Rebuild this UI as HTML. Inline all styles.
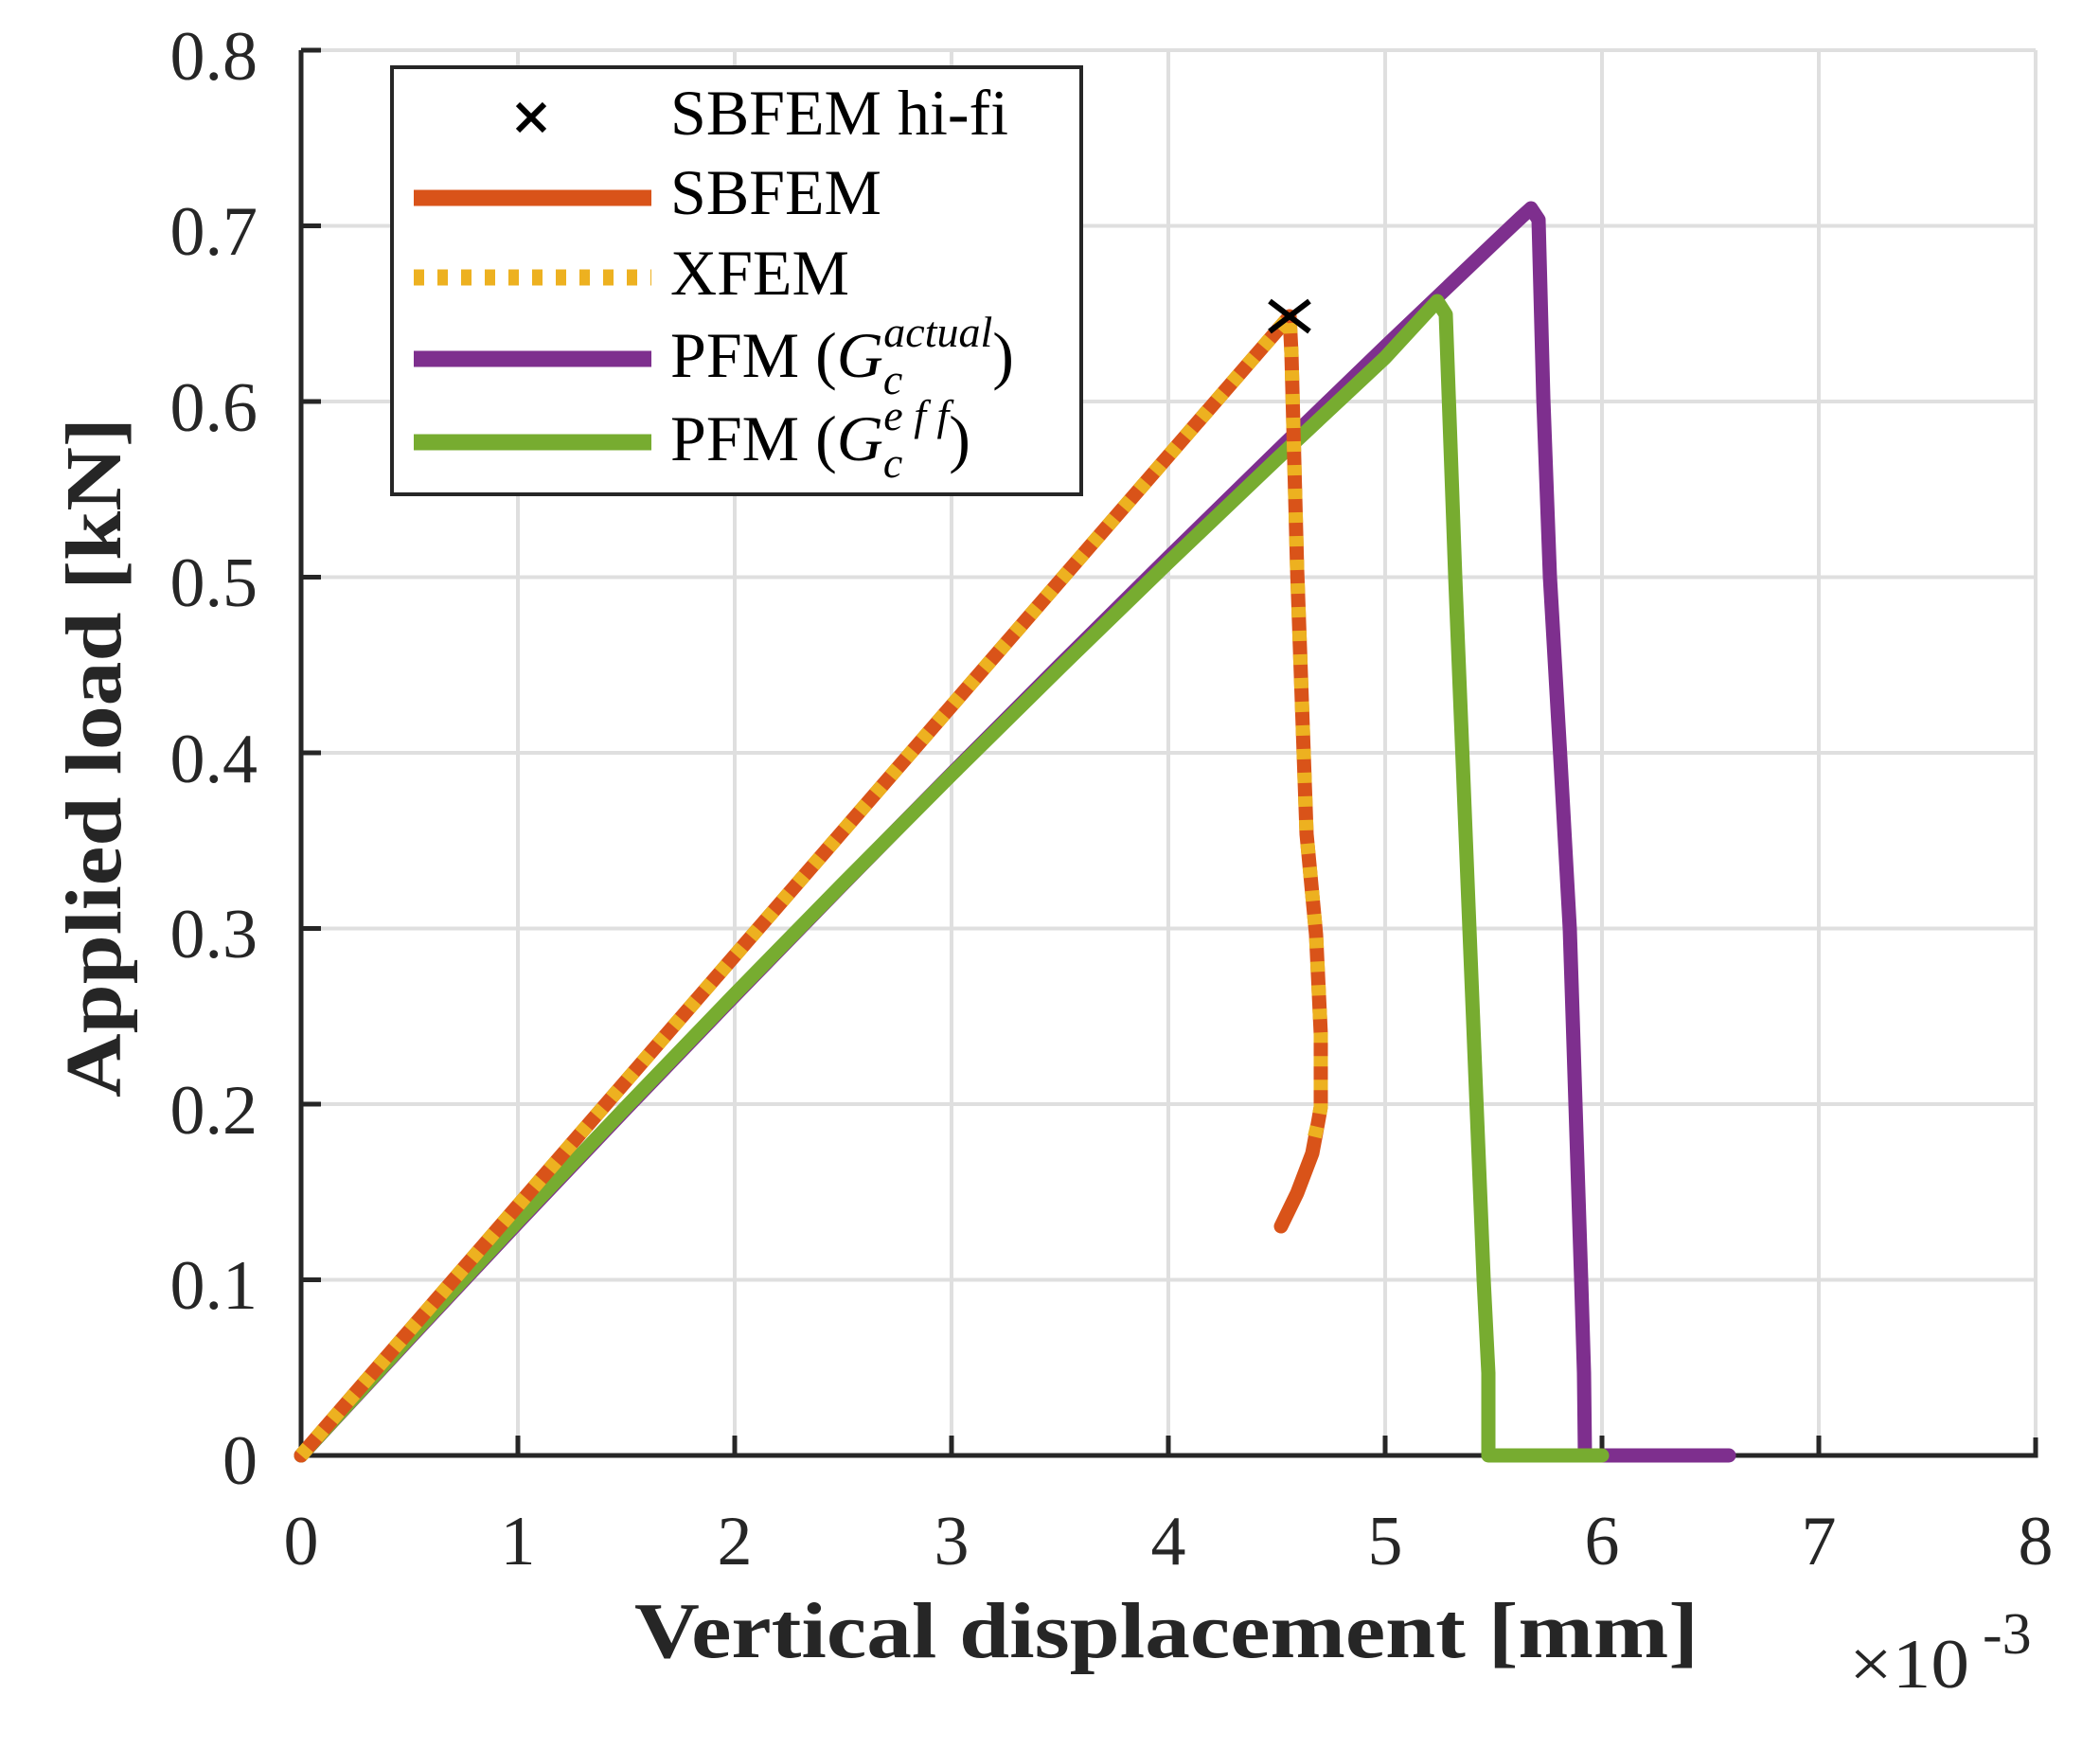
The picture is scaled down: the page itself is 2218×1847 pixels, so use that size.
<!DOCTYPE html>
<html><head><meta charset="utf-8"><style>
html,body{margin:0;padding:0;background:#fff}
svg{display:block}
text{font-family:"Liberation Serif",serif;fill:#262626}
</style></head><body>
<svg width="2218" height="1847" viewBox="0 0 2218 1847" xmlns="http://www.w3.org/2000/svg">
<rect width="2218" height="1847" fill="#fff"/>
<g stroke="#dfdfdf" stroke-width="4">
<line x1="318" y1="53" x2="2150" y2="53"/>
<line x1="318" y1="238.5" x2="2150" y2="238.5"/>
<line x1="318" y1="424" x2="2150" y2="424"/>
<line x1="318" y1="609.5" x2="2150" y2="609.5"/>
<line x1="318" y1="795" x2="2150" y2="795"/>
<line x1="318" y1="980.5" x2="2150" y2="980.5"/>
<line x1="318" y1="1166" x2="2150" y2="1166"/>
<line x1="318" y1="1351.5" x2="2150" y2="1351.5"/>
<line x1="547" y1="53" x2="547" y2="1537"/>
<line x1="776" y1="53" x2="776" y2="1537"/>
<line x1="1005" y1="53" x2="1005" y2="1537"/>
<line x1="1234" y1="53" x2="1234" y2="1537"/>
<line x1="1463" y1="53" x2="1463" y2="1537"/>
<line x1="1692" y1="53" x2="1692" y2="1537"/>
<line x1="1921" y1="53" x2="1921" y2="1537"/>
<line x1="2150" y1="53" x2="2150" y2="1537"/>
</g>
<g stroke="#262626" stroke-width="5" fill="none">
<polyline points="318,53 318,1537 2150,1537 2150,1518"/>
<line x1="318" y1="238.5" x2="339" y2="238.5"/>
<line x1="318" y1="53" x2="339" y2="53"/>
<line x1="318" y1="424" x2="339" y2="424"/>
<line x1="318" y1="609.5" x2="339" y2="609.5"/>
<line x1="318" y1="795" x2="339" y2="795"/>
<line x1="318" y1="980.5" x2="339" y2="980.5"/>
<line x1="318" y1="1166" x2="339" y2="1166"/>
<line x1="318" y1="1351.5" x2="339" y2="1351.5"/>
<line x1="547" y1="1537" x2="547" y2="1516"/>
<line x1="776" y1="1537" x2="776" y2="1516"/>
<line x1="1005" y1="1537" x2="1005" y2="1516"/>
<line x1="1234" y1="1537" x2="1234" y2="1516"/>
<line x1="1463" y1="1537" x2="1463" y2="1516"/>
<line x1="1692" y1="1537" x2="1692" y2="1516"/>
<line x1="1921" y1="1537" x2="1921" y2="1516"/>
</g>
<g fill="none" stroke-linejoin="round" stroke-linecap="round">
<polyline stroke="#7E2F8E" stroke-width="15" points="318,1537 432.5,1413.5 547,1291.2 661.5,1170.6 776,1051.4 890.5,933.6 1005,817.1 1119.5,702.2 1234,588.7 1348.5,476.7 1463,366 1577.5,256.9 1606,230 1617,220 1625,232 1630,420 1637,609 1648,800 1658,981 1670,1351 1673,1450 1674,1537 1826,1537"/>
<polyline stroke="#77AC30" stroke-width="15" points="318,1537 432.5,1412.3 547,1289.5 661.5,1168.8 776,1049.9 890.5,933 1005,818 1119.5,705 1234,593.9 1348.5,484.8 1463,377.6 1505,332 1518,318 1527,332 1537,609 1552,981 1567,1351 1572,1450 1572,1537 1692,1537"/>
<polyline stroke="#D95319" stroke-width="15" points="318,1537 1362,334 1364,373 1370,601 1380,881 1390,987 1395,1092 1395,1169 1392,1186 1386,1218 1370,1260 1353,1295"/>
<polyline stroke="#EDB120" stroke-width="15" stroke-linecap="butt" stroke-dasharray="11 14" points="318,1537 1362,334 1364,373 1370,601 1380,881 1390,987 1395,1092 1395,1169 1392,1186 1386,1211"/>
<g stroke="#000" stroke-width="6" stroke-linecap="butt"><line x1="1341" y1="318" x2="1383" y2="350"/><line x1="1341" y1="350" x2="1383" y2="318"/></g>
</g>
<rect x="414" y="71" width="728" height="451" fill="#fff" stroke="#262626" stroke-width="4"/>
<g stroke-linecap="butt">
<g stroke="#000" stroke-width="6"><line x1="547" y1="110" x2="575" y2="138"/><line x1="547" y1="138" x2="575" y2="110"/></g>
<line x1="437" y1="209" x2="688" y2="209" stroke="#D95319" stroke-width="17"/>
<line x1="437" y1="293" x2="688" y2="293" stroke="#EDB120" stroke-width="17" stroke-dasharray="11 14"/>
<line x1="437" y1="379" x2="688" y2="379" stroke="#7E2F8E" stroke-width="17"/>
<line x1="437" y1="467" x2="688" y2="467" stroke="#77AC30" stroke-width="17"/>
</g>
<g font-size="68">
<text x="708" y="142" style="fill:#000">SBFEM hi-fi</text>
<text x="708" y="226" style="fill:#000">SBFEM</text>
<text x="708" y="311" style="fill:#000">XFEM</text>
<text x="708" y="398" style="fill:#000">PFM (<tspan font-style="italic">G</tspan><tspan font-style="italic" font-size="46" dy="18">c</tspan><tspan font-style="italic" font-size="46" dx="-20" dy="-50">actual</tspan><tspan dy="32">)</tspan></text>
<text x="708" y="486" style="fill:#000">PFM (<tspan font-style="italic">G</tspan><tspan font-style="italic" font-size="46" dy="18">c</tspan><tspan font-style="italic" font-size="46" dx="-20" dy="-50">e f f</tspan><tspan dy="32">)</tspan></text>
</g>
<g font-size="74" text-anchor="end">
<text x="272" y="84">0.8</text>
<text x="272" y="269">0.7</text>
<text x="272" y="455">0.6</text>
<text x="272" y="640">0.5</text>
<text x="272" y="826">0.4</text>
<text x="272" y="1011">0.3</text>
<text x="272" y="1197">0.2</text>
<text x="272" y="1382">0.1</text>
<text x="272" y="1567">0</text>
</g>
<g font-size="74" text-anchor="middle">
<text x="318" y="1652">0</text>
<text x="547" y="1652">1</text>
<text x="776" y="1652">2</text>
<text x="1005" y="1652">3</text>
<text x="1234" y="1652">4</text>
<text x="1463" y="1652">5</text>
<text x="1692" y="1652">6</text>
<text x="1921" y="1652">7</text>
<text x="2150" y="1652">8</text>
</g>
<text x="670" y="1750" font-size="84" font-weight="bold" textLength="1124" lengthAdjust="spacingAndGlyphs">Vertical displacement [mm]</text>
<text transform="translate(127,800) rotate(-90)" text-anchor="middle" font-size="84" font-weight="bold" textLength="718" lengthAdjust="spacingAndGlyphs">Applied load [kN]</text>
<text x="1953" y="1782" font-size="74" textLength="127" lengthAdjust="spacingAndGlyphs">×10</text>
<text x="2094" y="1746" font-size="62">-3</text>
</svg>
</body></html>
